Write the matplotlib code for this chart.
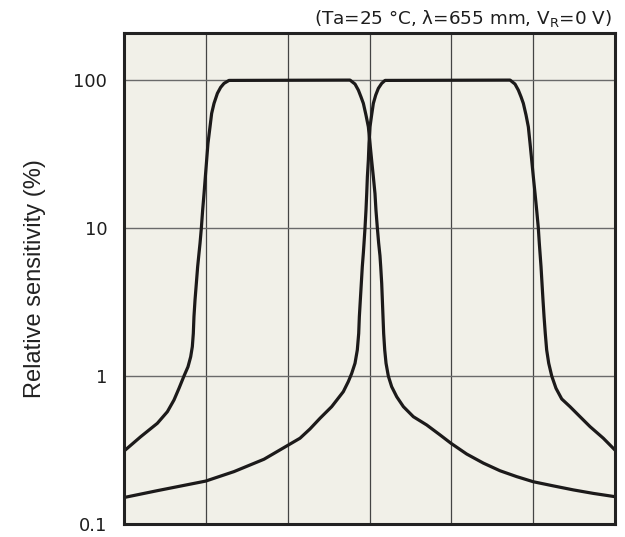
import numpy as np
import matplotlib.pyplot as plt

# curves (x in grid units 0..6, y in %)
x_a = [0.0, 0.204, 0.407, 0.530, 0.611, 0.672, 0.733, 0.782, 0.815, 0.835,
       0.847, 0.855, 0.868, 0.884, 0.900, 0.917, 0.929, 0.945, 0.961, 0.978,
       0.994, 1.010, 1.026, 1.051, 1.071, 1.100, 1.141, 1.181, 1.222, 1.283,
       2.762, 2.823, 2.864, 2.896, 2.925, 2.957, 2.986, 3.006, 3.026, 3.047,
       3.067, 3.079, 3.096, 3.112, 3.128, 3.137, 3.149, 3.157, 3.165, 3.173,
       3.186, 3.202, 3.230, 3.271, 3.333, 3.414, 3.536, 3.699, 3.862, 3.996,
       4.188, 4.391, 4.595, 4.799, 5.002, 5.246, 5.491, 5.735, 6.0]
y_a = [0.311, 0.389, 0.479, 0.574, 0.689, 0.826, 1.0, 1.155, 1.35, 1.58,
       1.94, 2.52, 3.27, 4.23, 5.48, 6.8, 7.89, 9.96, 13.2, 17.1,
       22.2, 28.8, 37.3, 48.3, 59.5, 69.6, 81.3, 89.3, 95, 99.5,
       100, 94, 85.5, 77, 69.6, 58, 48.3, 37.3, 28.8, 22.2,
       17.1, 13.2, 10, 7.9, 6.5, 5.48, 4.23, 3.27, 2.52, 1.94,
       1.5, 1.22, 1.0, 0.847, 0.724, 0.621, 0.531, 0.467, 0.40, 0.351,
       0.297, 0.258, 0.229, 0.209, 0.193, 0.181, 0.170, 0.161, 0.153]

x_b = [0.0, 0.407, 0.998, 1.344, 1.711, 2.151, 2.273, 2.395, 2.538, 2.680,
       2.741, 2.782, 2.823, 2.851, 2.868, 2.876, 2.888, 2.900, 2.912, 2.925,
       2.933, 2.945, 2.957, 2.966, 2.974, 2.986, 2.994, 3.006, 3.026, 3.047,
       3.076, 3.108, 3.149, 3.190, 4.718, 4.778, 4.819, 4.852, 4.880, 4.913,
       4.941, 4.962, 4.982, 5.002, 5.023, 5.043, 5.063, 5.075, 5.088, 5.096,
       5.108, 5.120, 5.133, 5.148, 5.165, 5.190, 5.227, 5.279, 5.349, 5.450,
       5.573, 5.695, 5.857, 6.0]
y_b = [0.151, 0.168, 0.195, 0.226, 0.274, 0.380, 0.439, 0.518, 0.621, 0.784,
       0.917, 1.04, 1.22, 1.5, 1.94, 2.52, 3.27, 4.23, 5.48, 6.8,
       7.9, 10, 13.2, 17.1, 22.2, 28.8, 37.3, 48.3, 58, 69.6,
       79.2, 87.9, 95, 99.5, 100, 94, 85.5, 77, 69.6, 58,
       48.3, 37.3, 28.8, 22.2, 17.1, 13.2, 10, 7.9, 6.3, 5.48,
       4.23, 3.27, 2.52, 1.94, 1.5, 1.22, 1.0, 0.826, 0.70, 0.621,
       0.531, 0.455, 0.380, 0.316]

y_ticks = [0.1, 1, 10, 100]
y_ticklabels = ["0.1", "1", "10", "100"]
x_grid = [1, 2, 3, 4, 5]

fig = plt.figure(figsize=(6.25, 5.37), dpi=100)
ax = fig.add_axes([0.1984, 0.0242, 0.7856, 0.9143])
ax.set_facecolor("#f1f0e8")

ax.set_yscale("log")
ax.set_xlim(0, 6)
ax.set_ylim(0.1, 208)

ax.set_xticks(x_grid)
ax.set_xticklabels([])
ax.set_yticks(y_ticks)
ax.set_yticklabels(y_ticklabels)
ax.minorticks_off()
ax.tick_params(length=0, labelsize=13, pad=12, colors="#1e1e1e")
ax.grid(True, axis="x", color="#444444", linewidth=0.9)
ax.grid(True, axis="y", color="#6a6a6a", linewidth=1.0)
ax.set_axisbelow(True)

for s in ax.spines.values():
    s.set_linewidth(2.2)
    s.set_color("#222222")

ax.plot(x_a, y_a, color="#1c1a1a", linewidth=2.3, solid_joinstyle="round")
ax.plot(x_b, y_b, color="#1c1a1a", linewidth=2.3, solid_joinstyle="round")

ax.set_ylabel("Relative sensitivity (%)", fontsize=17, family="Liberation Sans",
              color="#222222", labelpad=20)

fig.text(0.979, 0.966, r"(Ta=25 °C, λ=655 mm, V$_\mathregular{R}$=0 V)",
         ha="right", va="center", fontsize=13.2, color="#1e1e1e")

fig.savefig("out.png", dpi=100)
